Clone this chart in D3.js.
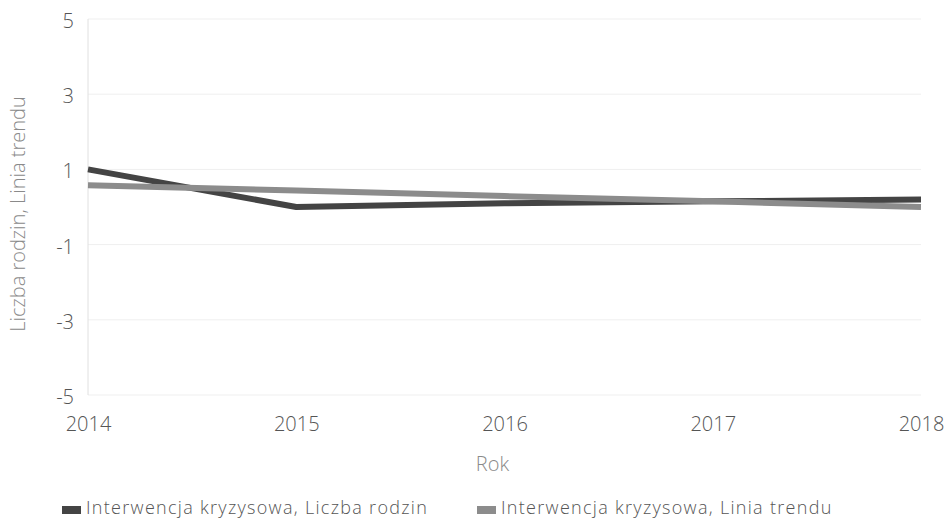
<!DOCTYPE html>
<head>
  <meta charset="utf-8">
  <script src="https://cdn.jsdelivr.net/npm/d3@7"></script>
  <style>
    body { margin: 0; background: white; }
    text { font-family: "Open Sans", "Noto Sans", sans-serif; font-weight: 300; }
    .grid line { stroke: #efefef; stroke-width: 1; }
    .axis path, .axis line { display: none; }
  </style>
</head>
<body>
<script>
const W = 948, H = 523;

// data
const years = [2014, 2015, 2016, 2017, 2018];
const liczbaRodzin = [1.0, 0.0, 0.1, 0.15, 0.2];
const liniaTrendu = [0.58, 0.44, 0.29, 0.15, 0.0];
const yTicks = [-5, -3, -1, 1, 3, 5];
const seriesNames = ["Interwencja kryzysowa, Liczba rodzin", "Interwencja kryzysowa, Linia trendu"];
const seriesColors = ["#444444", "#8c8c8c"];

const svg = d3.select("body").append("svg")
  .attr("width", W)
  .attr("height", H);

const x = d3.scaleLinear().domain([2014, 2018]).range([88, 921]);
const y = d3.scaleLinear().domain([-5, 5]).range([395, 19]);

// gridlines
svg.append("g").attr("class", "grid")
  .selectAll("line").data(yTicks).join("line")
  .attr("x1", x(2014)).attr("x2", x(2018))
  .attr("y1", d => y(d)).attr("y2", d => y(d));

// faint y axis line
svg.append("line")
  .attr("x1", x(2014)).attr("x2", x(2014))
  .attr("y1", y(5)).attr("y2", y(-5))
  .attr("stroke", "#e0e0e0");

// y axis labels (plain hyphen minus like the original)
svg.append("g").attr("class", "axis")
  .attr("transform", "translate(" + x(2014) + ",2)")
  .call(d3.axisLeft(y).tickValues(yTicks).tickSize(0).tickPadding(14).tickFormat(d => String(d)))
  .selectAll("text")
  .attr("font-size", 20).attr("fill", "#555").style("font-family", null);

// x axis labels
svg.append("g").attr("class", "axis")
  .attr("transform", "translate(0," + (y(-5) + 19) + ")")
  .call(d3.axisBottom(x).tickValues(years).tickSize(0).tickFormat(d => String(d)))
  .selectAll("text")
  .attr("font-size", 20).attr("fill", "#555").style("font-family", null);

// axis titles
svg.append("text")
  .attr("transform", "translate(25," + (y(0) + 7) + ") rotate(-90)")
  .attr("text-anchor", "middle")
  .attr("font-size", 20).attr("fill", "#8a8a8a")
  .text("Liczba rodzin, Linia trendu");

svg.append("text")
  .attr("x", (x(2014) + x(2018)) / 2 - 12).attr("y", 471)
  .attr("text-anchor", "middle")
  .attr("font-size", 20).attr("fill", "#8a8a8a")
  .text("Rok");

// lines
const line = d3.line()
  .x((d, i) => x(years[i]))
  .y(d => y(d));

[liczbaRodzin, liniaTrendu].forEach((s, i) => {
  svg.append("path")
    .datum(s)
    .attr("d", line)
    .attr("fill", "none")
    .attr("stroke", seriesColors[i])
    .attr("stroke-width", 6)
    .attr("stroke-linejoin", "round");
});

// legend
const legendX = [62, 477];
const legend = svg.append("g").selectAll("g").data(seriesNames).join("g")
  .attr("transform", (d, i) => "translate(" + legendX[i] + ",514)");
legend.append("rect")
  .attr("x", 0).attr("y", -8).attr("width", 19).attr("height", 8)
  .attr("fill", (d, i) => seriesColors[i]);
legend.append("text")
  .attr("x", 24).attr("y", 0)
  .attr("font-size", 18).attr("letter-spacing", 1.3).attr("fill", "#555")
  .text(d => d);
</script>
</body>
